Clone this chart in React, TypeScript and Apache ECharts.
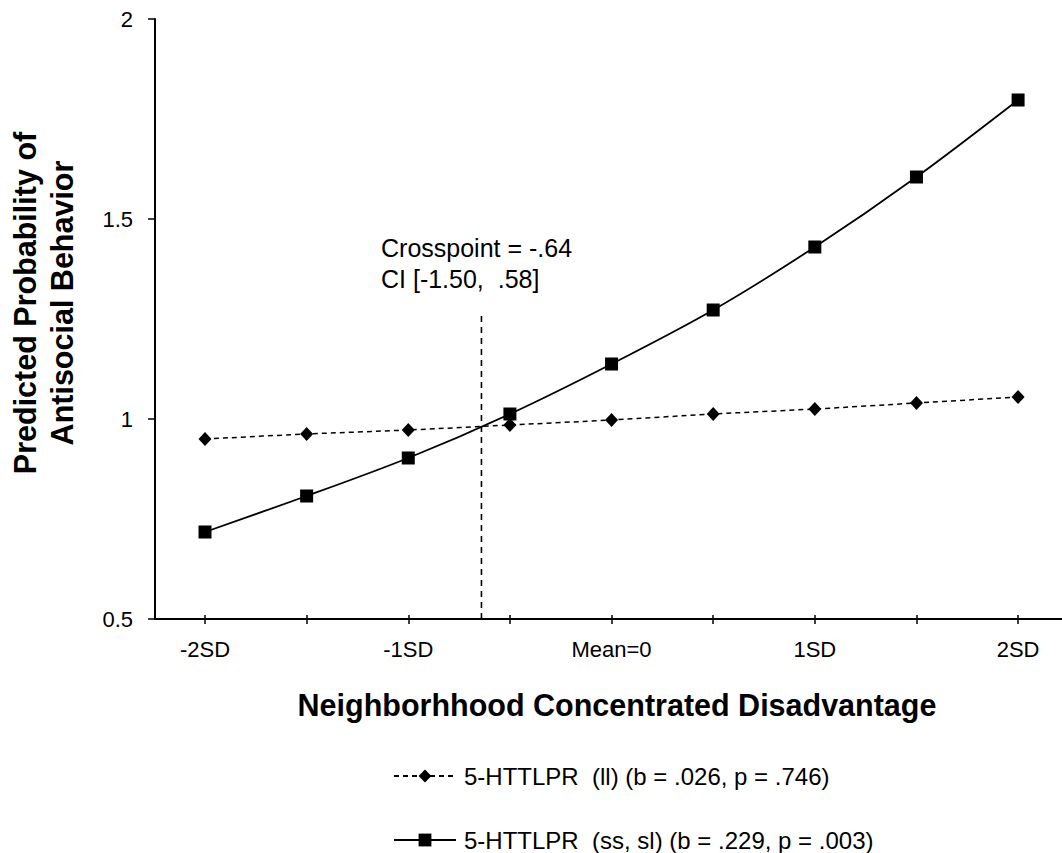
import React, { useEffect, useRef } from "react";
import * as echarts from "echarts";

const sdPositions = [-2, -1.5, -1, -0.5, 0, 0.5, 1, 1.5, 2];
const llValues = [0.95, 0.9625, 0.9725, 0.985, 0.9975, 1.0125, 1.025, 1.04, 1.055];
const ssValues = [0.7175, 0.8075, 0.9025, 1.0125, 1.1375, 1.2725, 1.43, 1.605, 1.7975];
const labelPositions = [-2, -1, 0, 1, 2];
const tickLabels = ["-2SD", "-1SD", "Mean=0", "1SD", "2SD"];
const crosspoint = -0.64;
const crossLineRange = [0.5, 1.2675];
const seriesNames = [
  "5-HTTLPR  (ll) (b = .026, p = .746)",
  "5-HTTLPR  (ss, sl) (b = .229, p = .003)",
];
const yTitle = "Predicted Probability of\nAntisocial Behavior";
const xTitle = "Neighborhhood Concentrated Disadvantage";
const annotation = ["Crosspoint = -.64", "CI [-1.50,  .58]"];

const FONT = "'Liberation Sans', Arial, sans-serif";

export default function App() {
  const ref = useRef<HTMLDivElement>(null);
  useEffect(() => {
    if (!ref.current) return;
    const chart = echarts.init(ref.current, undefined, { renderer: "svg" });
    const labelMap: Record<string, string> = {};
    labelPositions.forEach((p, i) => (labelMap[String(p)] = tickLabels[i]));
    const legendBase = {
      orient: "horizontal",
      left: 393,
      padding: 0,
      itemWidth: 62,
      itemHeight: 16,
      textStyle: { fontSize: 24, lineHeight: 24, color: "#000", fontFamily: FONT, padding: [0, 0, 0, 3] },
    };
    const xRange = { min: -2.246, max: 2.216 };
    chart.setOption({
      animation: false,
      backgroundColor: "#fff",
      textStyle: { fontFamily: FONT },
      grid: { left: 155, top: 19, width: 907, height: 600, containLabel: false },
      xAxis: [
        {
          type: "value",
          ...xRange,
          position: "bottom",
          splitLine: { show: false },
          axisLine: { show: true, onZero: false, lineStyle: { color: "#000", width: 2 } },
          axisTick: {
            show: true,
            customValues: sdPositions,
            length: 5,
            lineStyle: { color: "#000", width: 1.5 },
          },
          axisLabel: {
            customValues: labelPositions,
            formatter: (v: number) => labelMap[String(v)] ?? "",
            color: "#000",
            fontSize: 22,
            fontFamily: FONT,
            margin: 19,
          },
        },
        {
          type: "value",
          ...xRange,
          position: "bottom",
          offset: 0,
          splitLine: { show: false },
          axisLine: { show: false, onZero: false },
          axisTick: {
            show: true,
            inside: true,
            customValues: sdPositions,
            length: 4,
            lineStyle: { color: "#000", width: 1.5 },
          },
          axisLabel: { show: false },
        },
      ],
      yAxis: {
        type: "value",
        min: 0.5,
        max: 2,
        interval: 0.5,
        splitLine: { show: false },
        axisLine: { show: true, onZero: false, lineStyle: { color: "#000", width: 2 } },
        axisTick: { show: true, length: 7, lineStyle: { color: "#000", width: 1.5 } },
        axisLabel: { color: "#000", fontSize: 22, fontFamily: FONT, margin: 22 },
      },
      legend: [
        { ...legendBase, top: 764, data: [seriesNames[0]] },
        { ...legendBase, top: 828, data: [seriesNames[1]] },
      ],
      series: [
        {
          name: seriesNames[0],
          type: "line",
          data: sdPositions.map((x, i) => [x, llValues[i]]),
          smooth: 0.3,
          symbol: "diamond",
          symbolSize: [13, 14],
          itemStyle: { color: "#000" },
          lineStyle: { color: "#000", width: 1.5, type: [5, 4] },
          z: 3,
        },
        {
          name: seriesNames[1],
          type: "line",
          data: sdPositions.map((x, i) => [x, ssValues[i]]),
          smooth: 0.3,
          symbol: "rect",
          symbolSize: 13,
          itemStyle: { color: "#000" },
          lineStyle: { color: "#000", width: 1.8 },
          z: 4,
        },
        {
          name: "crosspoint",
          type: "line",
          data: crossLineRange.map((y) => [crosspoint, y]),
          symbol: "none",
          lineStyle: { color: "#000", width: 1.6, type: [6, 5] },
          silent: true,
          z: 2,
        },
      ],
      graphic: [
        {
          type: "text",
          x: 617,
          y: 705,
          style: {
            text: xTitle,
            fontSize: 30.5,
            fontWeight: "bold",
            fontFamily: FONT,
            fill: "#000",
            align: "center",
            verticalAlign: "middle",
          },
        },
        {
          type: "text",
          x: 43,
          y: 303,
          rotation: Math.PI / 2,
          style: {
            text: yTitle,
            fontSize: 30.5,
            fontWeight: "bold",
            fontFamily: FONT,
            fill: "#000",
            align: "center",
            verticalAlign: "middle",
            lineHeight: 37,
          },
        },
        {
          type: "text",
          x: 381,
          y: 248,
          style: {
            text: annotation[0],
            fontSize: 25,
            fontFamily: FONT,
            fill: "#000",
            align: "left",
            verticalAlign: "middle",
          },
        },
        {
          type: "text",
          x: 381,
          y: 279,
          style: {
            text: annotation[1],
            fontSize: 25,
            fontFamily: FONT,
            fill: "#000",
            align: "left",
            verticalAlign: "middle",
          },
        },
      ],
    });
    return () => chart.dispose();
  }, []);
  return (
    <div
      ref={ref}
      style={{ position: "absolute", left: 0, top: 0, width: 1062, height: 853 }}
    />
  );
}
